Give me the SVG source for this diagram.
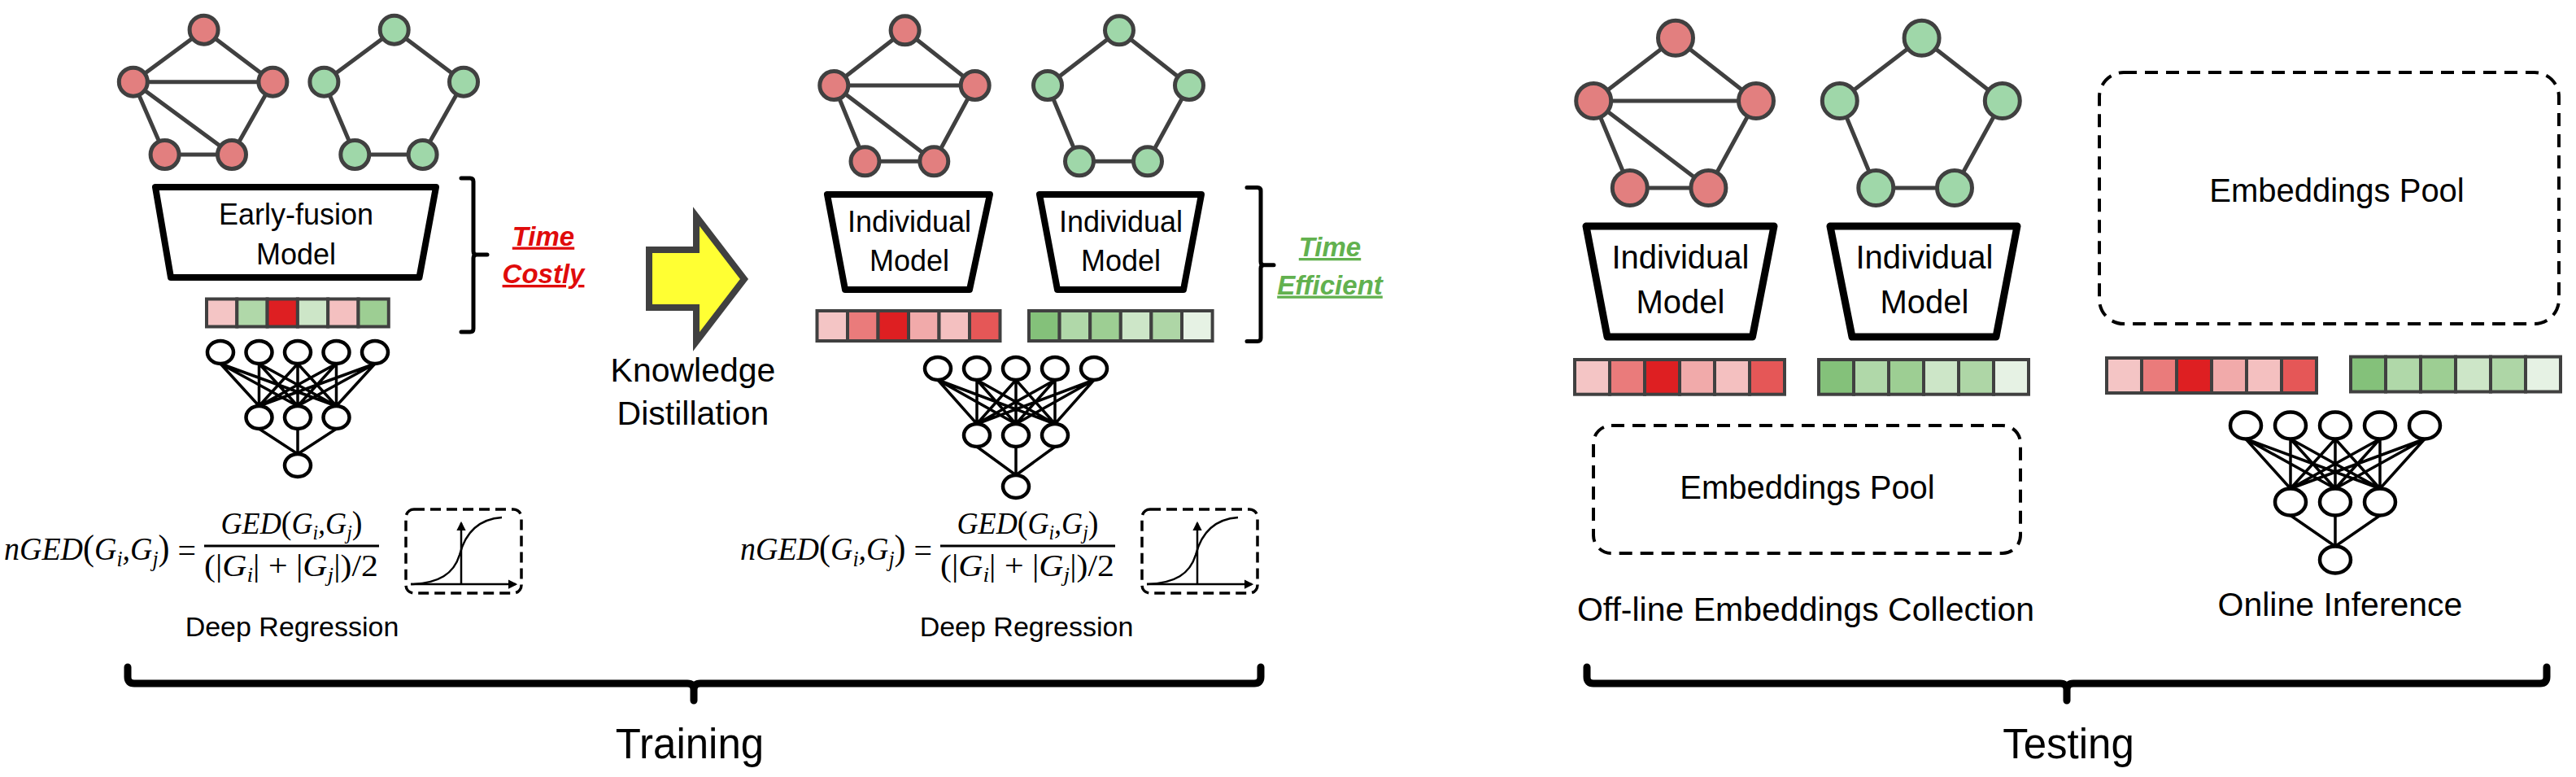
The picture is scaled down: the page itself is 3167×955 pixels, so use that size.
<svg xmlns="http://www.w3.org/2000/svg" width="3167" height="955" viewBox="0 0 3167 955">
<style>
.lbl{font-family:"Liberation Sans",Arial,sans-serif;fill:#000}
.math{font-family:"Liberation Serif","Times New Roman",serif;font-style:italic;fill:#000}
.up{font-style:normal}
.edge{stroke:#404040;stroke-width:5;fill:none;stroke-linecap:round}
.rn{fill:#e27f7f;stroke:#404040;stroke-width:5}
.gn{fill:#9fd7a9;stroke:#404040;stroke-width:5}
.trap{fill:#fff;stroke:#000;stroke-width:8;stroke-linejoin:round}
.trap2{fill:#fff;stroke:#000;stroke-width:9;stroke-linejoin:round}
.cell{stroke:#404040;stroke-width:4}
.nn{fill:#fff;stroke:#000;stroke-width:4.5}
.nnl{stroke:#000;stroke-width:3.5;fill:none}
.brk{stroke:#000;stroke-width:5;fill:none;stroke-linecap:round}
.brk2{stroke:#000;stroke-width:9;fill:none;stroke-linecap:round}
.dash{fill:none;stroke:#000;stroke-width:3.5;stroke-dasharray:13 7}
.dash2{fill:none;stroke:#000;stroke-width:4;stroke-dasharray:16 10}
.axis{stroke:#000;stroke-width:2.5;fill:none}
.c1{fill:#f4c5c5}.c2{fill:#ea7b7b}.c3{fill:#de1f22}.c4{fill:#f1aaaa}.c5{fill:#f4c0c0}.c6{fill:#e55757}
.g1{fill:#84c17a}.g2{fill:#b0d8a9}.g3{fill:#9dce93}.g4{fill:#cde6c8}.g5{fill:#aed6a6}.g6{fill:#e6f2e4}
.hot{font-family:"Liberation Sans",Arial,sans-serif;font-weight:bold;font-style:italic;text-decoration:underline}
</style>
<defs>
<marker id="ah" viewBox="0 0 10 10" refX="8" refY="5" markerWidth="4.5" markerHeight="4.5" orient="auto" markerUnits="strokeWidth">
<path d="M0,0 L10,5 L0,10 z" fill="#000"/>
</marker>
</defs>

<!-- connectors -->
<g id="connectors">
<path class="edge" d="M250.6 36.7L163.8 100.7M250.6 36.7L335.4 100.7M163.8 100.7L335.4 100.7M163.8 100.7L202.6 190M163.8 100.7L285 190M335.4 100.7L285 190M202.6 190L285 190"/>
<path class="edge" d="M484.7 36.7L398.4 100.7M484.7 36.7L570 100.7M398.4 100.7L436.3 190M570 100.7L519.6 190M436.3 190L519.6 190"/>
<path class="edge" d="M1112.6 37.3L1025.3 105M1112.6 37.3L1198.7 105M1025.3 105L1198.7 105M1025.3 105L1063.5 198.3M1025.3 105L1148.3 198.3M1198.7 105L1148.3 198.3M1063.5 198.3L1148.3 198.3"/>
<path class="edge" d="M1376 37.3L1288 105M1376 37.3L1462 105M1288 105L1327 198.3M1462 105L1411 198.3M1327 198.3L1411 198.3"/>
<path class="edge" d="M2060 46.7L1959.2 124M2060 46.7L2159 124M1959.2 124L2159 124M1959.2 124L2003.8 231M1959.2 124L2100.4 231M2159 124L2100.4 231M2003.8 231L2100.4 231"/>
<path class="edge" d="M2362.6 46.7L2261.8 124M2362.6 46.7L2461.8 124M2261.8 124L2306.3 231M2461.8 124L2403 231M2306.3 231L2403 231"/>
<path class="nnl" d="M271 447L318.5 499M271 447L366 499M271 447L413.5 499M318.5 447L318.5 499M318.5 447L366 499M318.5 447L413.5 499M366 447L318.5 499M366 447L366 499M366 447L413.5 499M413.5 447L318.5 499M413.5 447L366 499M413.5 447L413.5 499M461 447L318.5 499M461 447L366 499M461 447L413.5 499M318.5 527L366 558M366 527L366 558M413.5 527L366 558"/>
<path class="nnl" d="M1153 467L1201 521M1153 467L1249 521M1153 467L1297 521M1201 467L1201 521M1201 467L1249 521M1201 467L1297 521M1249 467L1201 521M1249 467L1249 521M1249 467L1297 521M1297 467L1201 521M1297 467L1249 521M1297 467L1297 521M1345 467L1201 521M1345 467L1249 521M1345 467L1297 521M1201 549L1249 584M1249 549L1249 584M1297 549L1249 584"/>
<path class="nnl" d="M2761 539.5L2816 600.5M2761 539.5L2871 600.5M2761 539.5L2926 600.5M2816 539.5L2816 600.5M2816 539.5L2871 600.5M2816 539.5L2926 600.5M2871 539.5L2816 600.5M2871 539.5L2871 600.5M2871 539.5L2926 600.5M2926 539.5L2816 600.5M2926 539.5L2871 600.5M2926 539.5L2926 600.5M2981 539.5L2816 600.5M2981 539.5L2871 600.5M2981 539.5L2926 600.5M2816 633.5L2871 671.5M2871 633.5L2871 671.5M2926 633.5L2871 671.5"/>
</g>

<!-- graphs -->
<g id="graph-red-1">
<circle class="rn" cx="250.6" cy="36.7" r="17.5"/><circle class="rn" cx="163.8" cy="100.7" r="17.5"/><circle class="rn" cx="335.4" cy="100.7" r="17.5"/><circle class="rn" cx="202.6" cy="190" r="17.5"/><circle class="rn" cx="285" cy="190" r="17.5"/>
</g>
<g id="graph-green-1">
<circle class="gn" cx="484.7" cy="36.7" r="17.5"/><circle class="gn" cx="398.4" cy="100.7" r="17.5"/><circle class="gn" cx="570" cy="100.7" r="17.5"/><circle class="gn" cx="436.3" cy="190" r="17.5"/><circle class="gn" cx="519.6" cy="190" r="17.5"/>
</g>
<g id="graph-red-2">
<circle class="rn" cx="1112.6" cy="37.3" r="17.5"/><circle class="rn" cx="1025.3" cy="105" r="17.5"/><circle class="rn" cx="1198.7" cy="105" r="17.5"/><circle class="rn" cx="1063.5" cy="198.3" r="17.5"/><circle class="rn" cx="1148.3" cy="198.3" r="17.5"/>
</g>
<g id="graph-green-2">
<circle class="gn" cx="1376" cy="37.3" r="17.5"/><circle class="gn" cx="1288" cy="105" r="17.5"/><circle class="gn" cx="1462" cy="105" r="17.5"/><circle class="gn" cx="1327" cy="198.3" r="17.5"/><circle class="gn" cx="1411" cy="198.3" r="17.5"/>
</g>
<g id="graph-red-3">
<circle class="rn" cx="2060" cy="46.7" r="21.5"/><circle class="rn" cx="1959.2" cy="124" r="21.5"/><circle class="rn" cx="2159" cy="124" r="21.5"/><circle class="rn" cx="2003.8" cy="231" r="21.5"/><circle class="rn" cx="2100.4" cy="231" r="21.5"/>
</g>
<g id="graph-green-3">
<circle class="gn" cx="2362.6" cy="46.7" r="21.5"/><circle class="gn" cx="2261.8" cy="124" r="21.5"/><circle class="gn" cx="2461.8" cy="124" r="21.5"/><circle class="gn" cx="2306.3" cy="231" r="21.5"/><circle class="gn" cx="2403" cy="231" r="21.5"/>
</g>

<!-- models -->
<g id="model-early-fusion">
<path class="trap" d="M191 230H536L515.5 341H210Z"/>
<text class="lbl" x="364" y="276" font-size="36" text-anchor="middle">Early-fusion</text>
<text class="lbl" x="364" y="325" font-size="36" text-anchor="middle">Model</text>
</g>
<g id="model-ind-1">
<path class="trap" d="M1017 239H1217L1192 356H1039Z"/>
<text class="lbl" x="1118" y="285" font-size="36" text-anchor="middle">Individual</text>
<text class="lbl" x="1118" y="333" font-size="36" text-anchor="middle">Model</text>
</g>
<g id="model-ind-2">
<path class="trap" d="M1278 239H1477L1455 356H1300Z"/>
<text class="lbl" x="1378" y="285" font-size="36" text-anchor="middle">Individual</text>
<text class="lbl" x="1378" y="333" font-size="36" text-anchor="middle">Model</text>
</g>
<g id="model-ind-3">
<path class="trap2" d="M1950 278H2181L2154.5 414H1976Z"/>
<text class="lbl" x="2066" y="330" font-size="40" text-anchor="middle">Individual</text>
<text class="lbl" x="2066" y="385" font-size="40" text-anchor="middle">Model</text>
</g>
<g id="model-ind-4">
<path class="trap2" d="M2250 278H2480L2454 414H2277Z"/>
<text class="lbl" x="2366" y="330" font-size="40" text-anchor="middle">Individual</text>
<text class="lbl" x="2366" y="385" font-size="40" text-anchor="middle">Model</text>
</g>

<!-- embedding vectors -->
<g id="vec-early">
<rect class="cell c1" x="254" y="367.5" width="37.3" height="34"/><rect class="cell g2" x="291.3" y="367.5" width="37.3" height="34"/><rect class="cell c3" x="328.6" y="367.5" width="37.3" height="34"/><rect class="cell g4" x="365.9" y="367.5" width="37.3" height="34"/><rect class="cell c5" x="403.2" y="367.5" width="37.3" height="34"/><rect class="cell g3" x="440.5" y="367.5" width="37.3" height="34"/>
</g>
<g id="vec-red-train">
<rect class="cell c1" x="1004.5" y="382" width="37.5" height="37"/><rect class="cell c2" x="1042" y="382" width="37.5" height="37"/><rect class="cell c3" x="1079.5" y="382" width="37.5" height="37"/><rect class="cell c4" x="1117" y="382" width="37.5" height="37"/><rect class="cell c5" x="1154.5" y="382" width="37.5" height="37"/><rect class="cell c6" x="1192" y="382" width="37.5" height="37"/>
</g>
<g id="vec-green-train">
<rect class="cell g1" x="1265" y="382" width="37.6" height="37"/><rect class="cell g2" x="1302.6" y="382" width="37.6" height="37"/><rect class="cell g3" x="1340.2" y="382" width="37.6" height="37"/><rect class="cell g4" x="1377.8" y="382" width="37.6" height="37"/><rect class="cell g5" x="1415.4" y="382" width="37.6" height="37"/><rect class="cell g6" x="1453" y="382" width="37.6" height="37"/>
</g>
<g id="vec-red-test-1">
<rect class="cell c1" x="1936" y="442" width="43" height="42.7"/><rect class="cell c2" x="1979" y="442" width="43" height="42.7"/><rect class="cell c3" x="2022" y="442" width="43" height="42.7"/><rect class="cell c4" x="2065" y="442" width="43" height="42.7"/><rect class="cell c5" x="2108" y="442" width="43" height="42.7"/><rect class="cell c6" x="2151" y="442" width="43" height="42.7"/>
</g>
<g id="vec-green-test-1">
<rect class="cell g1" x="2236" y="442" width="43" height="42.7"/><rect class="cell g2" x="2279" y="442" width="43" height="42.7"/><rect class="cell g3" x="2322" y="442" width="43" height="42.7"/><rect class="cell g4" x="2365" y="442" width="43" height="42.7"/><rect class="cell g5" x="2408" y="442" width="43" height="42.7"/><rect class="cell g6" x="2451" y="442" width="43" height="42.7"/>
</g>
<g id="vec-red-test-2">
<rect class="cell c1" x="2590" y="440" width="43" height="43"/><rect class="cell c2" x="2633" y="440" width="43" height="43"/><rect class="cell c3" x="2676" y="440" width="43" height="43"/><rect class="cell c4" x="2719" y="440" width="43" height="43"/><rect class="cell c5" x="2762" y="440" width="43" height="43"/><rect class="cell c6" x="2805" y="440" width="43" height="43"/>
</g>
<g id="vec-green-test-2">
<rect class="cell g1" x="2890" y="438.5" width="43" height="43"/><rect class="cell g2" x="2933" y="438.5" width="43" height="43"/><rect class="cell g3" x="2976" y="438.5" width="43" height="43"/><rect class="cell g4" x="3019" y="438.5" width="43" height="43"/><rect class="cell g5" x="3062" y="438.5" width="43" height="43"/><rect class="cell g6" x="3105" y="438.5" width="43" height="43"/>
</g>

<!-- regression networks -->
<g id="nn-1">
<ellipse class="nn" cx="271" cy="433" rx="16" ry="14"/><ellipse class="nn" cx="318.5" cy="433" rx="16" ry="14"/><ellipse class="nn" cx="366" cy="433" rx="16" ry="14"/><ellipse class="nn" cx="413.5" cy="433" rx="16" ry="14"/><ellipse class="nn" cx="461" cy="433" rx="16" ry="14"/>
<ellipse class="nn" cx="318.5" cy="513" rx="16" ry="14"/><ellipse class="nn" cx="366" cy="513" rx="16" ry="14"/><ellipse class="nn" cx="413.5" cy="513" rx="16" ry="14"/>
<ellipse class="nn" cx="366" cy="572" rx="16" ry="14"/>
</g>
<g id="nn-2">
<ellipse class="nn" cx="1153" cy="453" rx="16" ry="14"/><ellipse class="nn" cx="1201" cy="453" rx="16" ry="14"/><ellipse class="nn" cx="1249" cy="453" rx="16" ry="14"/><ellipse class="nn" cx="1297" cy="453" rx="16" ry="14"/><ellipse class="nn" cx="1345" cy="453" rx="16" ry="14"/>
<ellipse class="nn" cx="1201" cy="535" rx="16" ry="14"/><ellipse class="nn" cx="1249" cy="535" rx="16" ry="14"/><ellipse class="nn" cx="1297" cy="535" rx="16" ry="14"/>
<ellipse class="nn" cx="1249" cy="598" rx="16" ry="14"/>
</g>
<g id="nn-3">
<ellipse class="nn" cx="2761" cy="523" rx="19" ry="16.5"/><ellipse class="nn" cx="2816" cy="523" rx="19" ry="16.5"/><ellipse class="nn" cx="2871" cy="523" rx="19" ry="16.5"/><ellipse class="nn" cx="2926" cy="523" rx="19" ry="16.5"/><ellipse class="nn" cx="2981" cy="523" rx="19" ry="16.5"/>
<ellipse class="nn" cx="2816" cy="617" rx="19" ry="16.5"/><ellipse class="nn" cx="2871" cy="617" rx="19" ry="16.5"/><ellipse class="nn" cx="2926" cy="617" rx="19" ry="16.5"/>
<ellipse class="nn" cx="2871" cy="688" rx="19" ry="16.5"/>
</g>

<!-- time brackets -->
<g id="time-costly">
<path class="brk" d="M567 219H578Q582 219 582 223V309Q582 313 586 313H599M586 313Q582 313 582 317V404Q582 408 578 408H567"/>
<text class="hot" x="668" y="301.5" font-size="33" text-anchor="middle" fill="#e00b0b">Time</text>
<text class="hot" x="668" y="348" font-size="33" text-anchor="middle" fill="#e00b0b">Costly</text>
</g>
<g id="time-efficient">
<path class="brk" d="M1533 230.5H1546Q1550 230.5 1550 234.5V321.7Q1550 325.7 1554 325.7H1566M1554 325.7Q1550 325.7 1550 329.7V415.5Q1550 419.5 1546 419.5H1533"/>
<text class="hot" x="1635" y="315" font-size="33" text-anchor="middle" fill="#62b14f">Time</text>
<text class="hot" x="1635" y="361.5" font-size="33" text-anchor="middle" fill="#62b14f">Efficient</text>
</g>

<!-- knowledge distillation arrow -->
<g id="kd-arrow">
<path d="M798 307H856V266L915 343L856 420V378H798Z" fill="#ffff33" stroke="#404040" stroke-width="8" stroke-linejoin="miter"/>
<text class="lbl" x="852" y="469" font-size="41" text-anchor="middle">Knowledge</text>
<text class="lbl" x="852" y="522" font-size="41" text-anchor="middle">Distillation</text>
</g>

<!-- formulas -->
<g id="formula-1">
<text class="math" x="5" y="688" font-size="40" textLength="236" lengthAdjust="spacingAndGlyphs">nGED<tspan class="up" font-size="44">(</tspan>G<tspan font-size="27" dy="8">i</tspan><tspan dy="-8">,G</tspan><tspan font-size="27" dy="8">j</tspan><tspan class="up" font-size="44" dy="-8">)</tspan><tspan class="up" font-size="42" dy="2"> =</tspan></text>
<text class="math" x="271.5" y="656" font-size="38" textLength="174" lengthAdjust="spacingAndGlyphs">GED<tspan class="up" font-size="40">(</tspan>G<tspan font-size="25" dy="7">i</tspan><tspan dy="-7">,G</tspan><tspan font-size="25" dy="7">j</tspan><tspan class="up" font-size="40" dy="-7">)</tspan></text>
<line x1="251" y1="671" x2="466" y2="671" stroke="#000" stroke-width="3"/>
<text class="math" x="251" y="708" font-size="38" textLength="214" lengthAdjust="spacingAndGlyphs"><tspan class="up">(|</tspan>G<tspan font-size="25" dy="7">i</tspan><tspan class="up" dy="-7">| + |</tspan>G<tspan font-size="25" dy="7">j</tspan><tspan class="up" dy="-7">|)/2</tspan></text>
<rect class="dash" x="499" y="626" width="142" height="103" rx="10"/>
<line class="axis" x1="505" y1="718" x2="634" y2="718" marker-end="url(#ah)"/>
<line class="axis" x1="567" y1="718" x2="567" y2="643" marker-end="url(#ah)"/>
<path class="axis" d="M505 718C540 717 558 705 565 682C572 655 588 638 617 636"/>
<text class="lbl" x="359" y="782" font-size="34" text-anchor="middle">Deep Regression</text>
</g>
<g id="formula-2">
<g transform="translate(905,0)">
<text class="math" x="5" y="688" font-size="40" textLength="236" lengthAdjust="spacingAndGlyphs">nGED<tspan class="up" font-size="44">(</tspan>G<tspan font-size="27" dy="8">i</tspan><tspan dy="-8">,G</tspan><tspan font-size="27" dy="8">j</tspan><tspan class="up" font-size="44" dy="-8">)</tspan><tspan class="up" font-size="42" dy="2"> =</tspan></text>
<text class="math" x="271.5" y="656" font-size="38" textLength="174" lengthAdjust="spacingAndGlyphs">GED<tspan class="up" font-size="40">(</tspan>G<tspan font-size="25" dy="7">i</tspan><tspan dy="-7">,G</tspan><tspan font-size="25" dy="7">j</tspan><tspan class="up" font-size="40" dy="-7">)</tspan></text>
<line x1="251" y1="671" x2="466" y2="671" stroke="#000" stroke-width="3"/>
<text class="math" x="251" y="708" font-size="38" textLength="214" lengthAdjust="spacingAndGlyphs"><tspan class="up">(|</tspan>G<tspan font-size="25" dy="7">i</tspan><tspan class="up" dy="-7">| + |</tspan>G<tspan font-size="25" dy="7">j</tspan><tspan class="up" dy="-7">|)/2</tspan></text>
<rect class="dash" x="499" y="626" width="142" height="103" rx="10"/>
<line class="axis" x1="505" y1="718" x2="634" y2="718" marker-end="url(#ah)"/>
<line class="axis" x1="567" y1="718" x2="567" y2="643" marker-end="url(#ah)"/>
<path class="axis" d="M505 718C540 717 558 705 565 682C572 655 588 638 617 636"/>
</g>
<text class="lbl" x="1262" y="782" font-size="34" text-anchor="middle">Deep Regression</text>
</g>

<!-- embeddings pools -->
<g id="pool-offline">
<rect class="dash2" x="1959" y="523" width="525" height="157" rx="22"/>
<text class="lbl" x="2222" y="613" font-size="40" text-anchor="middle">Embeddings Pool</text>
</g>
<g id="pool-online">
<rect class="dash2" x="2581" y="89" width="565" height="309" rx="30"/>
<text class="lbl" x="2873" y="248" font-size="40" text-anchor="middle">Embeddings Pool</text>
</g>

<text class="lbl" x="2220" y="763" font-size="41" text-anchor="middle">Off-line Embeddings Collection</text>
<text class="lbl" x="2877" y="757" font-size="41" text-anchor="middle">Online Inference</text>

<!-- stage brackets -->
<g id="stage-training">
<path class="brk2" d="M157 820V832Q157 840 165 840H845Q853 840 853 848V861M853 848Q853 840 861 840H1542Q1550 840 1550 832V820"/>
<text class="lbl" x="848" y="932" font-size="51" text-anchor="middle">Training</text>
</g>
<g id="stage-testing">
<path class="brk2" d="M1951 820V832Q1951 840 1959 840H2533Q2541 840 2541 848V861M2541 848Q2541 840 2549 840H3123Q3131 840 3131 832V820"/>
<text class="lbl" x="2543" y="932" font-size="51" text-anchor="middle">Testing</text>
</g>
</svg>
